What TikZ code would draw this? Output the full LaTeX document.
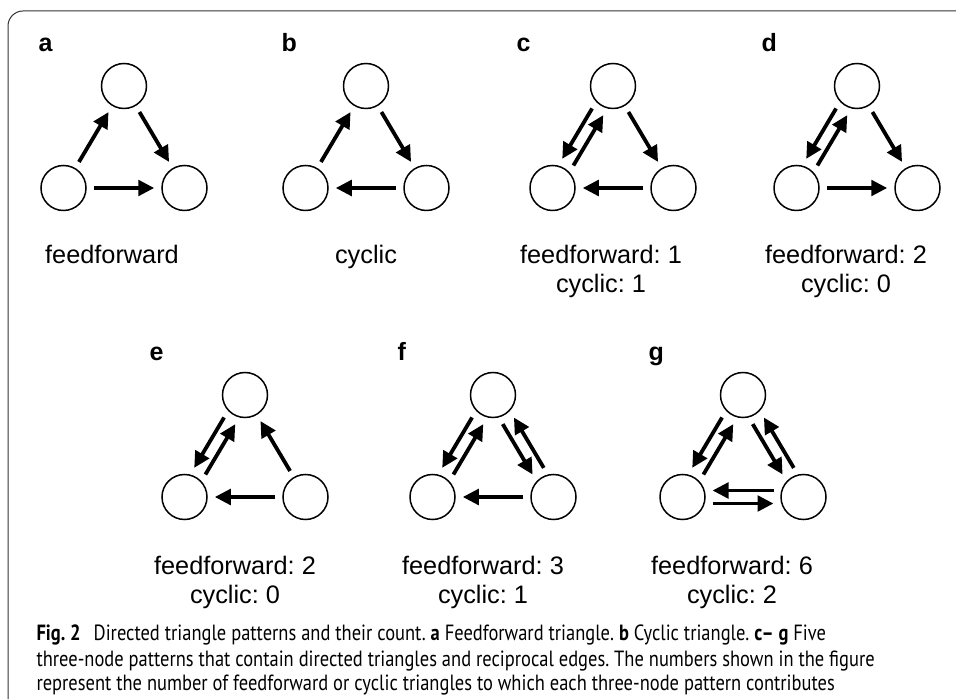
\documentclass[tikz,border=0pt]{standalone}
\usepackage{fontspec}
\setmainfont{Liberation Sans}
\newfontfamily\capfont[FakeStretch=0.84]{PT Sans}
\usetikzlibrary{arrows.meta,calc}
\frenchspacing

% two opposite arrows side by side between two vertices
\newcommand\twoway[2]{%
  \draw[arr,shorten <=30pt,shorten >=30pt] ($(#1)!6.5pt!-90:(#2)$) -- ($(#2)!6.5pt!90:(#1)$);
  \draw[arr,shorten <=30pt,shorten >=30pt] ($(#2)!6.5pt!-90:(#1)$) -- ($(#1)!6.5pt!90:(#2)$);
}

\begin{document}
\begin{tikzpicture}[x=1pt,y=1pt]

\tikzset{vtx/.style={circle,draw,line width=1.5pt,minimum size=45pt,inner sep=0pt}}
\tikzset{arr/.style={line width=3.8pt,-{Triangle[length=16pt,width=15.5pt]},shorten <=7pt,shorten >=7pt}}
\tikzset{tag/.style={anchor=base west,font=\fontsize{25}{30}\selectfont\bfseries}}
\tikzset{count/.style={anchor=base,align=center,font=\fontsize{25.3}{29}\selectfont}}

\useasboundingbox (0,0) rectangle (956,699);
\draw[line width=1pt,black!80,rounded corners=15pt] (8,0) |- (956,688);

\foreach \p/\x/\y in {a/124/613, b/366/613, c/613/613, d/857/613,
                      e/245/304, f/493/304, g/743/304}{
  \node[vtx] (\p-top) at (\x,\y) {};
  \node[vtx] (\p-left) at (\x-60.5,\y-102) {};
  \node[vtx] (\p-right) at (\x+60.5,\y-102) {};
}

% a: feedforward
\draw[arr] (a-left) -- (a-top);
\draw[arr] (a-top) -- (a-right);
\draw[arr] (a-left) -- (a-right);
% b: cyclic
\draw[arr] (b-left) -- (b-top);
\draw[arr] (b-top) -- (b-right);
\draw[arr] (b-right) -- (b-left);
% c
\twoway{c-top}{c-left}
\draw[arr] (c-top) -- (c-right);
\draw[arr] (c-right) -- (c-left);
% d
\twoway{d-top}{d-left}
\draw[arr] (d-top) -- (d-right);
\draw[arr] (d-left) -- (d-right);
% e
\twoway{e-top}{e-left}
\draw[arr] (e-right) -- (e-top);
\draw[arr] (e-right) -- (e-left);
% f
\twoway{f-top}{f-left}
\twoway{f-top}{f-right}
\draw[arr] (f-right) -- (f-left);
% g
\twoway{g-top}{g-left}
\twoway{g-top}{g-right}
\twoway{g-left}{g-right}

\node[tag] (a-tag) at (35,647) {a};
\node[tag] (b-tag) at (278,647) {b};
\node[tag] (c-tag) at (513,647) {c};
\node[tag] (d-tag) at (758,647) {d};
\node[tag] (e-tag) at (146,338) {e};
\node[tag] (f-tag) at (394,338) {f};
\node[tag] (g-tag) at (645,338) {g};

% base of a two-line count = its last line
\node[count] (a-count) at (112,435) {feedforward};
\node[count] (b-count) at (366,435) {cyclic};
\node[count] (c-count) at (601,406) {feedforward: 1\\cyclic: 1};
\node[count] (d-count) at (846,406) {feedforward: 2\\cyclic: 0};
\node[count] (e-count) at (235,95) {feedforward: 2\\cyclic: 0};
\node[count] (f-count) at (483,95) {feedforward: 3\\cyclic: 1};
\node[count] (g-count) at (732,95) {feedforward: 6\\cyclic: 2};

\node[anchor=base west,align=left,font=\capfont\fontsize{22}{25}\selectfont] (caption) at (33,8)
  {\textbf{Fig. 2}\hspace{0.6em}Directed triangle patterns and their count. \textbf{a} Feedforward triangle. \textbf{b} Cyclic triangle. \textbf{c– g} Five\\
   three-node patterns that contain directed triangles and reciprocal edges. The numbers shown in the figure\\
   represent the number of feedforward or cyclic triangles to which each three-node pattern contributes};

\end{tikzpicture}
\end{document}
